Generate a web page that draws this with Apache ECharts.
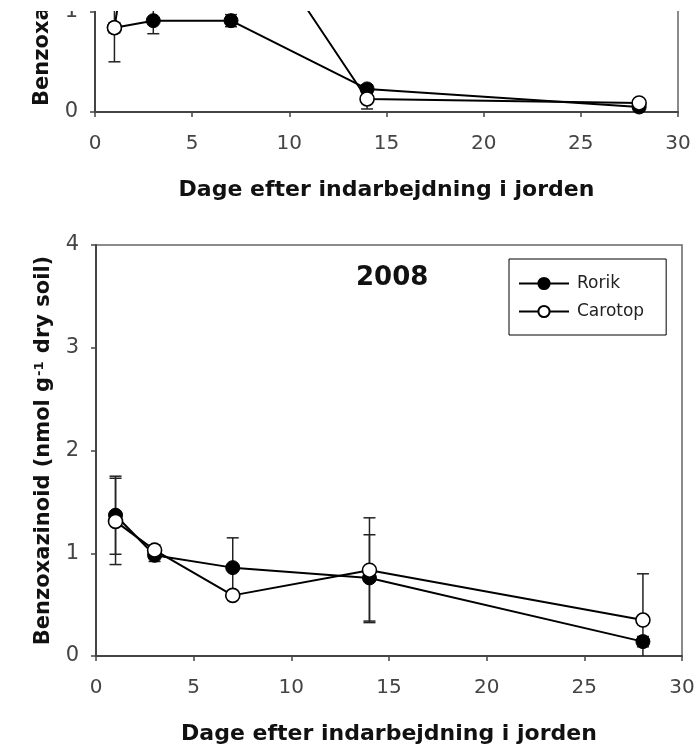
<!DOCTYPE html>
<html><head><meta charset="utf-8">
<script src="https://cdn.jsdelivr.net/npm/echarts@6/dist/echarts.min.js"></script>
<style>html,body{margin:0;padding:0;background:#fff;overflow:hidden;width:699px;height:746px}
#c{position:absolute;left:0;top:-300px;width:699px;height:1046px}</style>
</head><body><div id="c"></div>
<script>
// ---- data ----
const days = [1, 3, 7, 14, 28];
const xTickLabels = [0, 5, 10, 15, 20, 25, 30];
const yTickLabels = [0, 1, 2, 3, 4];
const seriesNames = ['Rorik', 'Carotop'];

// upper panel (cropped, only lower part visible)
const rorikTop = [0.84, 0.91, 0.91, 0.23, 0.05];
const rorikTopErr = [0.05, 0.13, 0.06, 0.04, 0.02];
const carotopTop = [0.84, 3.30, 2.16, 0.13, 0.09];
const carotopTopErr = [0.34, 0.30, 0.30, 0.10, 0.04];

// lower panel: 2008
const panelTitle = '2008';
const rorik2008 = [1.37, 0.98, 0.86, 0.76, 0.14];
const rorik2008Err = [0.38, 0.06, 0.29, 0.42, 0.05];
const carotop2008 = [1.31, 1.03, 0.59, 0.835, 0.35];
const carotop2008Err = [0.42, 0.05, 0.03, 0.51, 0.45];

const xName = 'Dage efter indarbejdning i jorden';
const yName = 'Benzoxazinoid (nmol g{s|-1} dry soil)';

// ---- build ----
const FONT = 'DejaVu Sans';
const OFF = 300; // the chart canvas starts 300px above the visible window
function xAxis(gi) {
  return {
    type: 'value', gridIndex: gi, min: xTickLabels[0], max: xTickLabels[xTickLabels.length - 1], interval: 5,
    name: xName, nameLocation: 'middle', nameGap: 67,
    nameTextStyle: { fontFamily: FONT, fontWeight: 'bold', fontSize: 22, color: '#111' },
    axisLine: { onZero: false, lineStyle: { color: '#444', width: 2 } },
    axisTick: { show: true, length: 5, inside: false, lineStyle: { color: '#444', width: 1.5 } },
    axisLabel: { margin: 22, fontFamily: FONT, fontSize: 20, color: '#444' },
    splitLine: { show: false }
  };
}
function yAxis(gi) {
  return {
    type: 'value', gridIndex: gi, min: yTickLabels[0], max: yTickLabels[yTickLabels.length - 1], interval: 1,
    name: yName, nameLocation: 'middle', nameGap: 52, nameRotate: 90,
    nameTextStyle: { fontFamily: FONT, fontWeight: 'bold', fontSize: 21, color: '#111', verticalAlign: 'middle',
      rich: { s: { fontFamily: FONT, fontWeight: 'bold', fontSize: 13, color: '#111', verticalAlign: 'top', padding: [0, 1, 0, 1] } } },
    axisLine: { onZero: false, lineStyle: { color: '#444', width: 2 } },
    axisTick: { show: true, length: 5, inside: false, lineStyle: { color: '#444', width: 1.5 } },
    axisLabel: { margin: 17, fontFamily: FONT, fontSize: 21, color: '#444' },
    splitLine: { show: false }
  };
}
function lineSeries(name, gi, vals, z) {
  const open = name === 'Carotop';
  return {
    type: 'line', name, xAxisIndex: gi, yAxisIndex: gi, z,
    data: days.map((d, i) => [d, vals[i]]),
    symbol: 'circle', symbolSize: 14, showSymbol: true,
    lineStyle: { color: '#000', width: 2 },
    itemStyle: open ? { color: '#fff', borderColor: '#000', borderWidth: 1.6 } : { color: '#000', borderColor: '#000', borderWidth: 1 },
    emphasis: { disabled: true }, animation: false
  };
}
function errSeries(gi, vals, errs) {
  return {
    type: 'custom', xAxisIndex: gi, yAxisIndex: gi, z: 1, silent: true, animation: false,
    data: days.map((d, i) => [d, vals[i] - errs[i], vals[i] + errs[i]]),
    encode: { x: 0, y: [1, 2] },
    renderItem(params, api) {
      const x = api.value(0), lo = api.value(1), hi = api.value(2);
      const cs = params.coordSys;
      const pLo = api.coord([x, lo]), pHi = api.coord([x, hi]);
      const top = cs.y, bot = cs.y + cs.height;
      const y1 = Math.max(pHi[1], top), y2 = Math.min(pLo[1], bot);
      const st = { stroke: '#222', lineWidth: 1.5 };
      const hw = 6;
      const ch = [{ type: 'line', shape: { x1: pLo[0], y1, x2: pLo[0], y2 }, style: st }];
      if (pHi[1] >= top) ch.push({ type: 'line', shape: { x1: pHi[0] - hw, y1: pHi[1], x2: pHi[0] + hw, y2: pHi[1] }, style: st });
      if (pLo[1] <= bot) ch.push({ type: 'line', shape: { x1: pLo[0] - hw, y1: pLo[1], x2: pLo[0] + hw, y2: pLo[1] }, style: st });
      return { type: 'group', children: ch };
    }
  };
}

const chart = echarts.init(document.getElementById('c'), null, { renderer: 'canvas' });
chart.setOption({
  backgroundColor: '#fff',
  animation: false,
  title: { text: panelTitle, left: 356, top: 265 + OFF, padding: 0,
    textStyle: { fontFamily: FONT, fontWeight: 'bold', fontSize: 26, color: '#111' } },
  legend: {
    data: seriesNames, orient: 'vertical', left: 509, top: 259 + OFF,
    borderColor: '#000', borderWidth: 1, padding: [16, 22, 15, 9],
    itemWidth: 50, itemHeight: 14, itemGap: 11,
    textStyle: { fontFamily: FONT, fontSize: 17, color: '#222', padding: [0, 0, 0, 3] },
    selectedMode: false
  },
  grid: [
    { left: 95, right: 21, top: 0, bottom: 634, show: true, borderColor: '#666', borderWidth: 1.5, containLabel: false },
    { left: 96, right: 17, top: 245 + OFF, bottom: 89, show: true, borderColor: '#666', borderWidth: 1.5, containLabel: false }
  ],
  xAxis: [xAxis(0), xAxis(1)],
  yAxis: [yAxis(0), yAxis(1)],
  series: [
    errSeries(0, rorikTop, rorikTopErr),
    errSeries(0, carotopTop, carotopTopErr),
    lineSeries('Rorik', 0, rorikTop, 2),
    lineSeries('Carotop', 0, carotopTop, 3),
    errSeries(1, rorik2008, rorik2008Err),
    errSeries(1, carotop2008, carotop2008Err),
    lineSeries('Rorik', 1, rorik2008, 2),
    lineSeries('Carotop', 1, carotop2008, 3)
  ],
  graphic: [
    { type: 'rect', left: 0, top: OFF, z: 100, shape: { width: 699, height: 11 }, style: { fill: '#fff' } }
  ]
});
</script></body></html>
